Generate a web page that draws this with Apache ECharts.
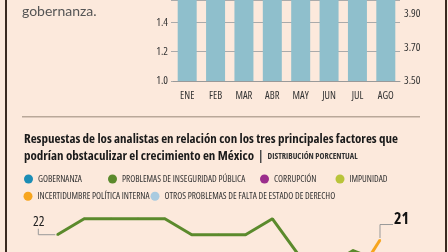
<!DOCTYPE html>
<html>
<head>
<meta charset="utf-8">
<script src="https://cdn.jsdelivr.net/npm/echarts@6/dist/echarts.min.js"></script>
<style>
html,body{margin:0;padding:0;background:#fce9dc;}
#c{width:448px;height:252px;}
</style>
</head>
<body>
<div id="c"></div>
<script>
// ---- Top chart data ----
var months = ['ENE','FEB','MAR','ABR','MAY','JUN','JUL','AGO'];
var barValues = [1.9, 1.9, 1.9, 1.9, 1.9, 1.9, 1.9, 1.9]; // bars run above the visible frame
var leftTicks = [1.0, 1.2, 1.4];
var rightTicks = [3.50, 3.70, 3.90];

// ---- Bottom chart data ----
var periods = ['1','2','3','4','5','6','7','8','9','10','11','12','13'];
var seriesNames = ['GOBERNANZA','PROBLEMAS DE INSEGURIDAD PÚBLICA','CORRUPCIÓN','IMPUNIDAD','INCERTIDUMBRE POLÍTICA INTERNA','OTROS PROBLEMAS DE FALTA DE ESTADO DE DERECHO'];
var seriesColors = ['#1b8db5','#5b8a2c','#9b2d8c','#b9c43a','#f7a51e','#a9cbe0'];
var gobernanza = [];
var inseguridad = [22, 25, 25, 25, 25, 22, 22, 22, 25, 18, 16, 19, 17];
var corrupcion = [];
var impunidad = [];
var incertidumbre = [null, null, null, null, null, null, null, null, null, null, null, 13, 21];
var otros = [];
var bottomData = [gobernanza, inseguridad, corrupcion, impunidad, incertidumbre, otros];

var FF = "'Open Sans'";
var FSTY = 'condensed';
var chart = echarts.init(document.getElementById('c'), null, {renderer:'canvas'});

var legendPos = [
  {left:24, top:174.5},
  {left:108, top:174.5},
  {left:260, top:174.5},
  {left:335.5, top:174.5},
  {left:23.5, top:191.8},
  {left:150.5, top:191.8}
];

var legends = seriesNames.map(function(n, i){
  return {
    data:[n], left:legendPos[i].left, top:legendPos[i].top, padding:0,
    icon:'circle', itemWidth:9, itemHeight:9, selectedMode:false,
    textStyle:{fontFamily:FF, fontStyle:FSTY, fontSize:9.2, color:'#333'}
  };
});

var bottomSeries = seriesNames.map(function(n, i){
  return {
    name:n, type:'line', xAxisIndex:1, yAxisIndex:2,
    data:bottomData[i].slice(), color:seriesColors[i], symbol:'circle', symbolSize:2,
    lineStyle:{width:3, color:seriesColors[i]}, itemStyle:{color:seriesColors[i]},
    animation:false, silent:true, clip:false
  };
});
// value labels: first green point and last orange point
bottomSeries[1].data[0] = {value:inseguridad[0], label:{show:true, position:'inside', offset:[-18.5,-13], formatter:'{c}', fontFamily:FF, fontStyle:FSTY, fontSize:13.5, color:'#222'}};
bottomSeries[4].data[12] = {value:incertidumbre[12], label:{show:true, position:'inside', offset:[21.5,-20.5], formatter:'{c}', fontFamily:FF, fontStyle:FSTY, fontSize:16, fontWeight:'bold', color:'#111'}};

function pick(list, v, digits){
  for (var i = 0; i < list.length; i++) {
    if (Math.abs(list[i] - v) < 1e-3) return list[i].toFixed(digits);
  }
  return '';
}

var option = {
  backgroundColor:'#fce9dc',
  animation:false,
  title:[
    {text:'gobernanza.', left:22, top:4, padding:0, textStyle:{fontFamily:'Lato', fontWeight:'normal', fontSize:14, color:'#555'}},
    {text:'{b|Respuestas de los analistas en relación con los tres principales factores que}\n{b|podrían obstaculizar el crecimiento en México}{sep|  |  }{s|DISTRIBUCIÓN PORCENTUAL}',
     left:24, top:131.5, padding:0,
     textStyle:{rich:{
       b:{fontFamily:FF, fontStyle:FSTY, fontWeight:'bold', fontSize:13, color:'#1a1a1a', lineHeight:16.5},
       sep:{fontFamily:FF, fontStyle:FSTY, fontSize:12, color:'#444', lineHeight:16.5},
       s:{fontFamily:FF, fontStyle:FSTY, fontSize:8.4, color:'#333', lineHeight:16.5}
     }}}
  ],
  legend:legends,
  grid:[
    {left:173, right:48, top:0, height:81},
    {left:57.3, right:68, top:192.3, bottom:0}
  ],
  xAxis:[
    {type:'category', gridIndex:0, data:months,
     axisLine:{show:true, lineStyle:{color:'#999', width:1}}, axisTick:{show:false},
     axisLabel:{fontFamily:FF, fontStyle:FSTY, fontSize:10.5, color:'#333', margin:10}},
    {type:'category', gridIndex:1, data:periods, boundaryGap:false, show:false}
  ],
  yAxis:[
    {type:'value', gridIndex:0, min:1.0, max:1.5529, interval:0.2, position:'left',
     axisLine:{show:false}, axisTick:{show:true, length:2, lineStyle:{color:'#aaa'}},
     splitLine:{show:true, lineStyle:{color:'#aaa', width:1}},
     axisLabel:{fontFamily:FF, fontStyle:FSTY, fontSize:11, color:'#333', margin:5,
       formatter:function(v){ return pick(leftTicks, v, 1); }}},
    {type:'value', gridIndex:0, min:3.5, max:3.9836, interval:0.1, position:'right',
     axisLine:{show:false}, axisTick:{show:false}, splitLine:{show:false},
     axisLabel:{fontFamily:FF, fontStyle:FSTY, fontSize:11, color:'#333', margin:4,
       formatter:function(v){ return pick(rightTicks, v, 2); }}},
    {type:'value', gridIndex:1, min:18.74, max:30, show:false}
  ],
  series:[
    {type:'bar', xAxisIndex:0, yAxisIndex:0, data:barValues, barWidth:19,
     itemStyle:{color:'#8fbfcc'}, clip:true, silent:true}
  ].concat(bottomSeries)
};
chart.setOption(option);

// leader lines for the two value labels, positioned through the chart's own scales
var p22 = chart.convertToPixel({xAxisIndex:1, yAxisIndex:2}, [0, inseguridad[0]]);
var p21 = chart.convertToPixel({xAxisIndex:1, yAxisIndex:2}, [12, incertidumbre[12]]);
chart.setOption({
  graphic:[
    {type:'line', shape:{x1:6, y1:0, x2:6, y2:252}, style:{stroke:'#3a2a20', lineWidth:2}, silent:true},
    {type:'line', shape:{x1:446, y1:0, x2:446, y2:252}, style:{stroke:'#3a2a20', lineWidth:2}, silent:true},
    {type:'line', shape:{x1:22, y1:116.7, x2:420, y2:116.7}, style:{stroke:'#b9a899', lineWidth:1.5}, silent:true},
    {type:'polyline', shape:{points:[[p22[0]-2,p22[1]],[p22[0]-19,p22[1]],[p22[0]-19,p22[1]-6]]}, style:{stroke:'#999', lineWidth:1, fill:null}, silent:true, z:1},
    {type:'polyline', shape:{points:[[p21[0],p21[1]-2],[p21[0],p21[1]-15.5],[p21[0]+13,p21[1]-15.5]]}, style:{stroke:'#999', lineWidth:1, fill:null}, silent:true, z:1}
  ]
});
</script>
</body>
</html>
